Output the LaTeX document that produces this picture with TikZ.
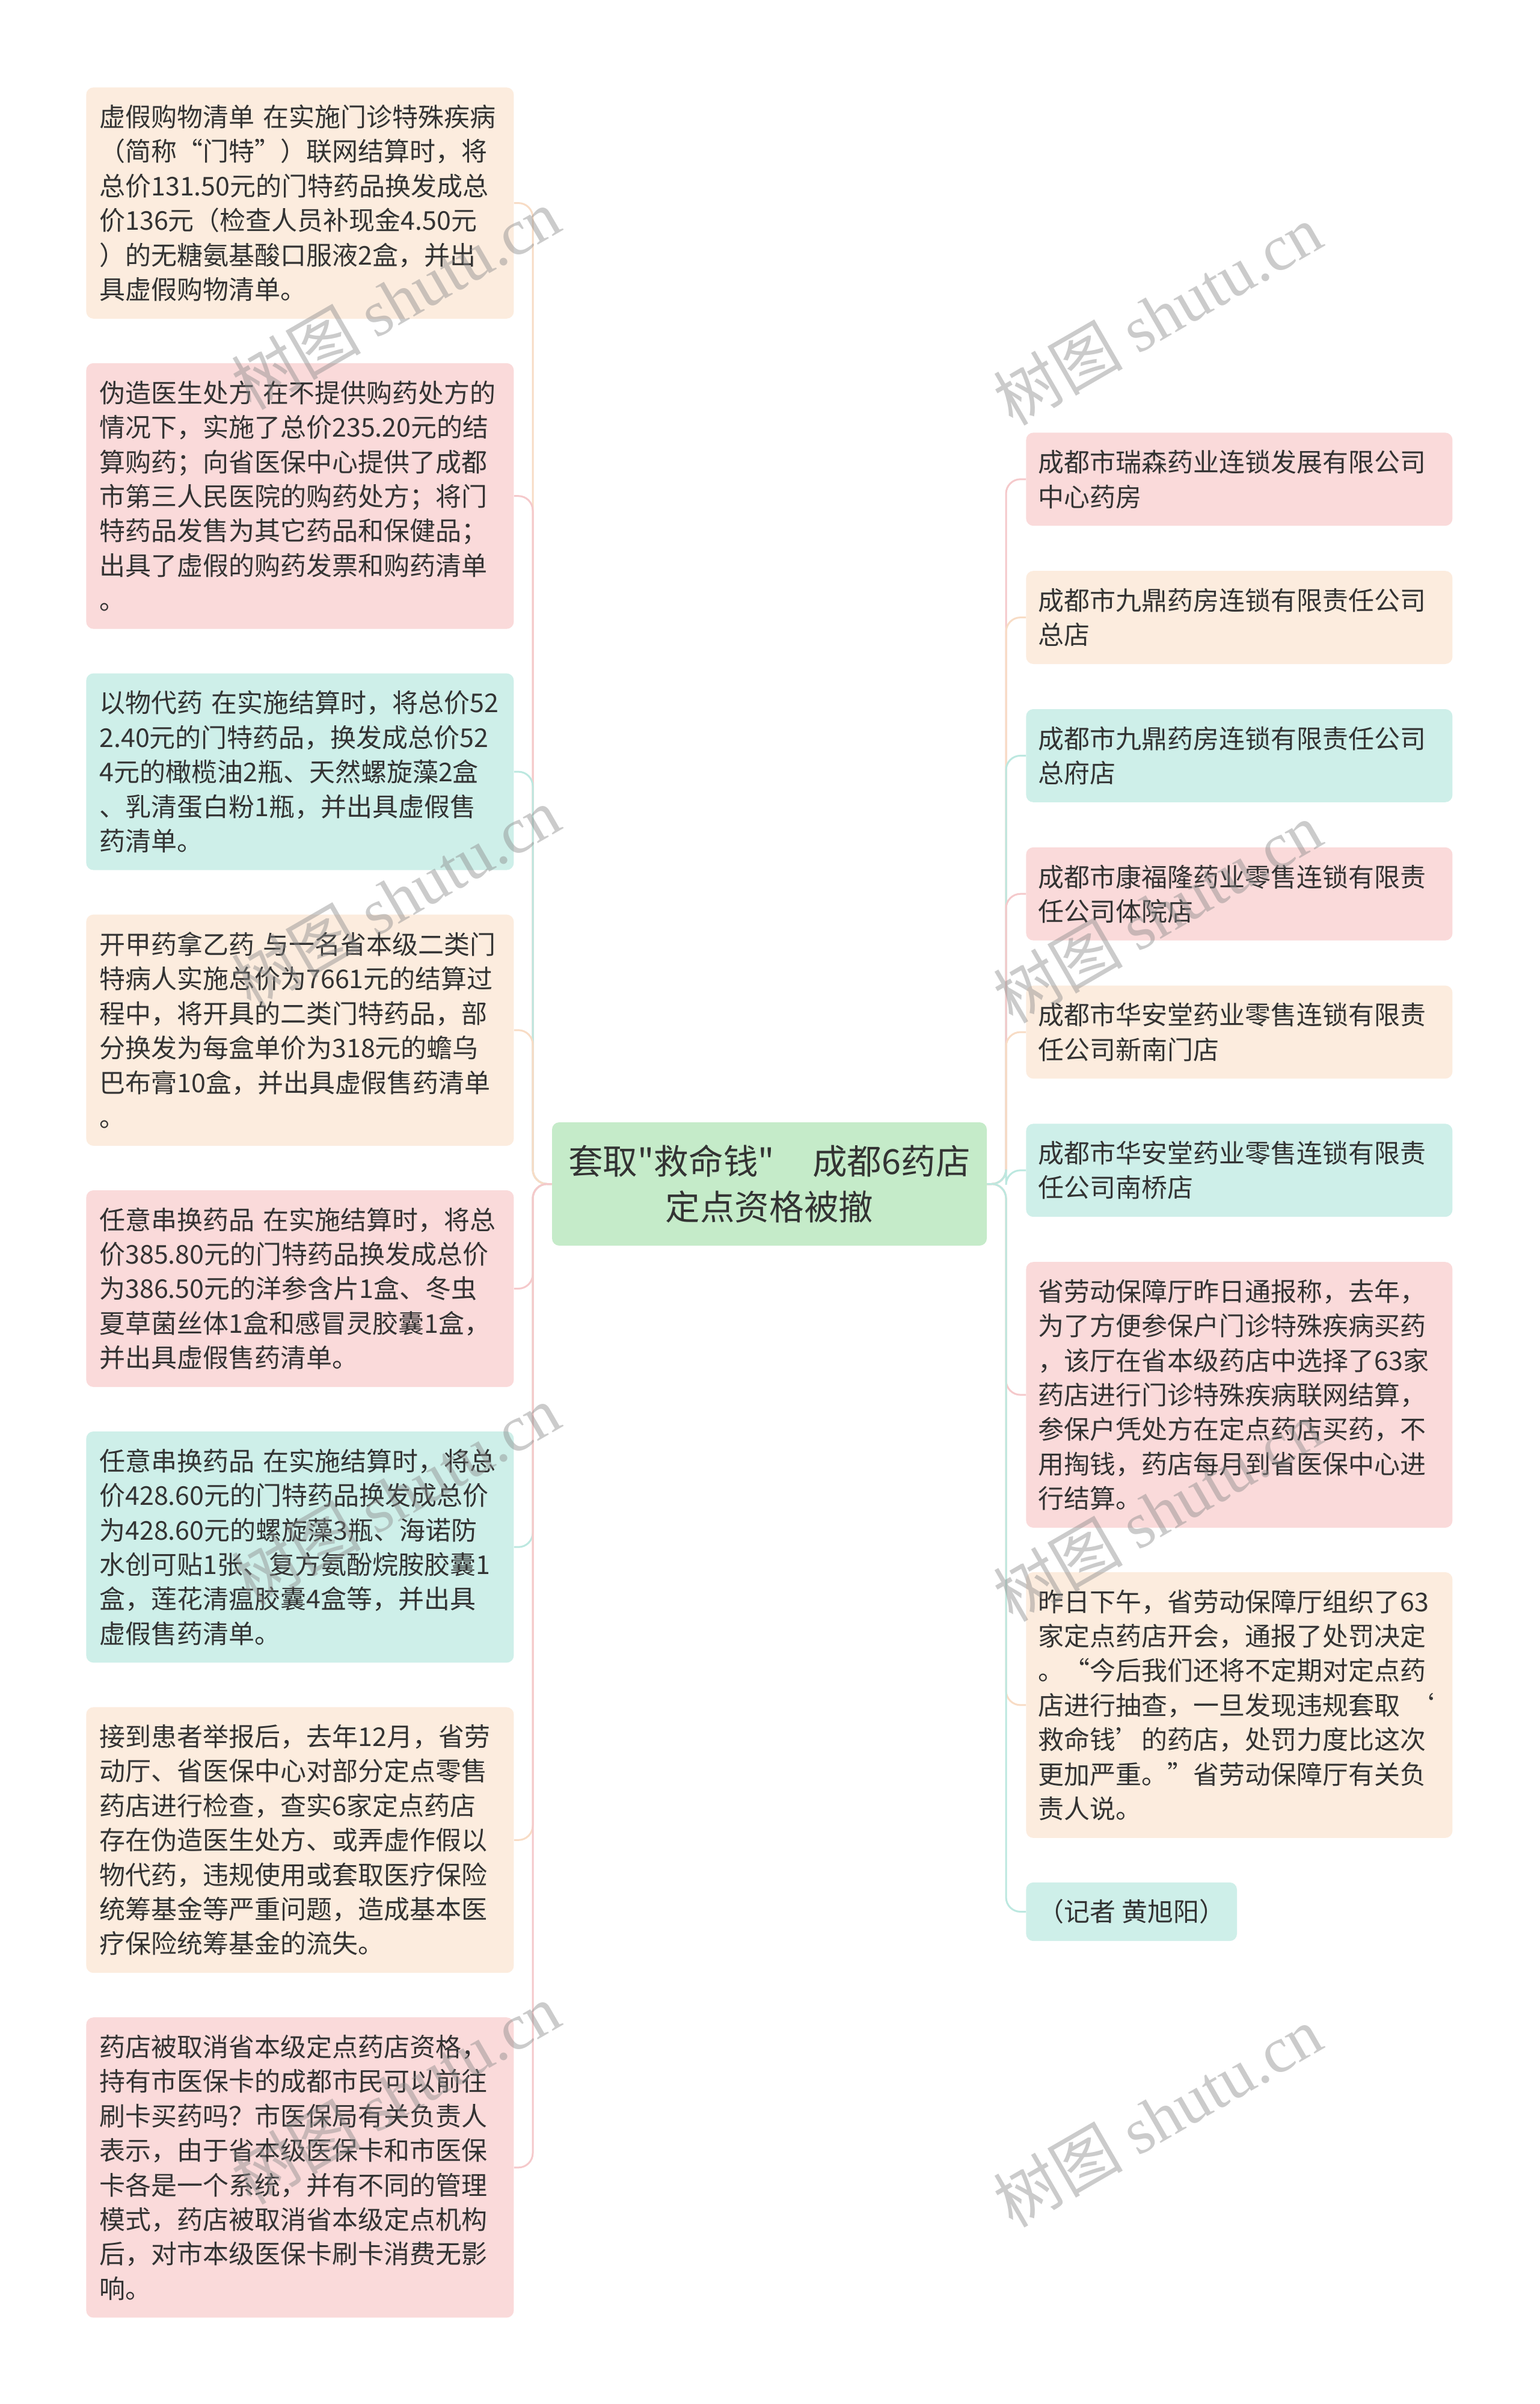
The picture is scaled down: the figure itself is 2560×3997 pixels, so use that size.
\documentclass[tikz,border=0pt]{standalone}
\usepackage{fontspec}
\setmainfont{Noto Sans CJK SC}[Ligatures=TeXOff]
\newfontfamily\wmfont{Liberation Serif}

\definecolor{peachfill}{HTML}{FCECDE}
\definecolor{pinkfill}{HTML}{FADADA}
\definecolor{mintfill}{HTML}{CEEFE9}
\definecolor{rootfill}{HTML}{C5EBC9}
\definecolor{peachline}{HTML}{F8DCC5}
\definecolor{pinkline}{HTML}{F5C9CB}
\definecolor{mintline}{HTML}{BCE8E0}
\definecolor{textdark}{HTML}{333333}

\tikzset{
  box/.style={shape=rectangle, rounded corners=6pt, anchor=north west, align=left, inner ysep=0pt, text=textdark},
  leftbox/.style={box, inner xsep=11pt, text width=333.5pt, font=\fontsize{21.5pt}{28.7pt}\selectfont},
  rightbox/.style={box, inner xsep=10pt, text width=334.5pt, font=\fontsize{21.5pt}{28.7pt}\selectfont},
  rootbox/.style={shape=rectangle, rounded corners=6pt, fill=rootfill, text=textdark, align=center, minimum width=361.5pt, minimum height=102.5pt, font=\fontsize{28.8pt}{38.2pt}\selectfont},
  link/.style={line width=1.5pt, rounded corners=12pt},
  wmark/.style={rotate=30, text=black!45, opacity=0.45, font=\fontsize{54pt}{54pt}\selectfont}
}

\begin{document}
\begin{tikzpicture}[x=0.5pt, y=-0.5pt]
	\useasboundingbox[fill=white] (0,0) rectangle (2560,3997);
	% Root node:
	\node[rootbox] (root) at (1279.5,1968.5) {套取"救命钱"\hspace{1.1em}成都6药店\\定点资格被撤};
	\coordinate (trunkl) at (886,0);
	\coordinate (trunkr) at (1673,0);
	% Left column:
	\node[leftbox, fill=peachfill, minimum height=192.2pt] (l1) at (143,145) {虚假购物清单~在实施门诊特殊疾病\\（简称“门特”）联网结算时，将\\总价131.50元的门特药品换发成总\\价136元（检查人员补现金4.50元\\）的无糖氨基酸口服液2盒，并出\\具虚假购物清单。};
	\node[leftbox, fill=pinkfill, minimum height=220.9pt] (l2) at (143,603.4) {伪造医生处方~在不提供购药处方的\\情况下，实施了总价235.20元的结\\算购药；向省医保中心提供了成都\\市第三人民医院的购药处方；将门\\特药品发售为其它药品和保健品；\\出具了虚假的购药发票和购药清单\\。};
	\node[leftbox, fill=mintfill, minimum height=163.5pt] (l3) at (143,1119.2) {以物代药~在实施结算时，将总价52\\2.40元的门特药品，换发成总价52\\4元的橄榄油2瓶、天然螺旋藻2盒\\、乳清蛋白粉1瓶，并出具虚假售\\药清单。};
	\node[leftbox, fill=peachfill, minimum height=192.2pt] (l4) at (143,1520.2) {开甲药拿乙药~与一名省本级二类门\\特病人实施总价为7661元的结算过\\程中，将开具的二类门特药品，部\\分换发为每盒单价为318元的蟾乌\\巴布膏10盒，并出具虚假售药清单\\。};
	\node[leftbox, fill=pinkfill, minimum height=163.5pt] (l5) at (143,1978.6) {任意串换药品~在实施结算时，将总\\价385.80元的门特药品换发成总价\\为386.50元的洋参含片1盒、冬虫\\夏草菌丝体1盒和感冒灵胶囊1盒，\\并出具虚假售药清单。};
	\node[leftbox, fill=mintfill, minimum height=192.2pt] (l6) at (143,2379.6) {任意串换药品~在实施结算时，将总\\价428.60元的门特药品换发成总价\\为428.60元的螺旋藻3瓶、海诺防\\水创可贴1张、复方氨酚烷胺胶囊1\\盒，莲花清瘟胶囊4盒等，并出具\\虚假售药清单。};
	\node[leftbox, fill=peachfill, minimum height=220.9pt] (l7) at (143,2838) {接到患者举报后，去年12月，省劳\\动厅、省医保中心对部分定点零售\\药店进行检查，查实6家定点药店\\存在伪造医生处方、或弄虚作假以\\物代药，违规使用或套取医疗保险\\统筹基金等严重问题，造成基本医\\疗保险统筹基金的流失。};
	\node[leftbox, fill=pinkfill, minimum height=249.6pt] (l8) at (143,3353.8) {药店被取消省本级定点药店资格，\\持有市医保卡的成都市民可以前往\\刷卡买药吗？市医保局有关负责人\\表示，由于省本级医保卡和市医保\\卡各是一个系统，并有不同的管理\\模式，药店被取消省本级定点机构\\后，对市本级医保卡刷卡消费无影\\响。};
	% Right column:
	\node[rightbox, fill=pinkfill, minimum height=77.4pt] (r1) at (1706,719) {成都市瑞森药业连锁发展有限公司\\中心药房};
	\node[rightbox, fill=peachfill, minimum height=77.4pt] (r2) at (1706,948.8) {成都市九鼎药房连锁有限责任公司\\总店};
	\node[rightbox, fill=mintfill, minimum height=77.4pt] (r3) at (1706,1178.6) {成都市九鼎药房连锁有限责任公司\\总府店};
	\node[rightbox, fill=pinkfill, minimum height=77.4pt] (r4) at (1706,1408.4) {成都市康福隆药业零售连锁有限责\\任公司体院店};
	\node[rightbox, fill=peachfill, minimum height=77.4pt] (r5) at (1706,1638.2) {成都市华安堂药业零售连锁有限责\\任公司新南门店};
	\node[rightbox, fill=mintfill, minimum height=77.4pt] (r6) at (1706,1868) {成都市华安堂药业零售连锁有限责\\任公司南桥店};
	\node[rightbox, fill=pinkfill, minimum height=220.9pt] (r7) at (1706,2097.8) {省劳动保障厅昨日通报称，去年，\\为了方便参保户门诊特殊疾病买药\\，该厅在省本级药店中选择了63家\\药店进行门诊特殊疾病联网结算，\\参保户凭处方在定点药店买药，不\\用掏钱，药店每月到省医保中心进\\行结算。};
	\node[rightbox, fill=peachfill, minimum height=220.9pt] (r8) at (1706,2613.6) {昨日下午，省劳动保障厅组织了63\\家定点药店开会，通报了处罚决定\\。“今后我们还将不定期对定点药\\店进行抽查，一旦发现违规套取~‘\\救命钱’的药店，处罚力度比这次\\更加严重。”省劳动保障厅有关负\\责人说。};
	\node[rightbox, text width=, fill=mintfill, minimum height=48.7pt] (r9) at (1706,3129.4) {（记者~黄旭阳）};
	% Links from the root:
	\draw[link, peachline] (root.west) -- (root.west -| trunkl) |- (l1.east);
	\draw[link, pinkline] (root.west) -- (root.west -| trunkl) |- (l2.east);
	\draw[link, mintline] (root.west) -- (root.west -| trunkl) |- (l3.east);
	\draw[link, peachline] (root.west) -- (root.west -| trunkl) |- (l4.east);
	\draw[link, pinkline] (root.west) -- (root.west -| trunkl) |- (l5.east);
	\draw[link, mintline] (root.west) -- (root.west -| trunkl) |- (l6.east);
	\draw[link, peachline] (root.west) -- (root.west -| trunkl) |- (l7.east);
	\draw[link, pinkline] (root.west) -- (root.west -| trunkl) |- (l8.east);
	\draw[link, pinkline] (root.east) -- (root.east -| trunkr) |- (r1.west);
	\draw[link, peachline] (root.east) -- (root.east -| trunkr) |- (r2.west);
	\draw[link, mintline] (root.east) -- (root.east -| trunkr) |- (r3.west);
	\draw[link, pinkline] (root.east) -- (root.east -| trunkr) |- (r4.west);
	\draw[link, peachline] (root.east) -- (root.east -| trunkr) |- (r5.west);
	\draw[link, mintline] (root.east) -- (root.east -| trunkr) |- (r6.west);
	\draw[link, pinkline] (root.east) -- (root.east -| trunkr) |- (r7.west);
	\draw[link, peachline] (root.east) -- (root.east -| trunkr) |- (r8.west);
	\draw[link, mintline] (root.east) -- (root.east -| trunkr) |- (r9.west);
	% Watermarks:
	\node[wmark] (wml1) at (658,497) {树图 {\wmfont shutu.cn}};
	\node[wmark] (wml2) at (658,1492) {树图 {\wmfont shutu.cn}};
	\node[wmark] (wml3) at (658,2486) {树图 {\wmfont shutu.cn}};
	\node[wmark] (wml4) at (658,3481) {树图 {\wmfont shutu.cn}};
	\node[wmark] (wmr1) at (1925,523) {树图 {\wmfont shutu.cn}};
	\node[wmark] (wmr2) at (1925,1517) {树图 {\wmfont shutu.cn}};
	\node[wmark] (wmr3) at (1925,2512) {树图 {\wmfont shutu.cn}};
	\node[wmark] (wmr4) at (1925,3519) {树图 {\wmfont shutu.cn}};
\end{tikzpicture}
\end{document}
